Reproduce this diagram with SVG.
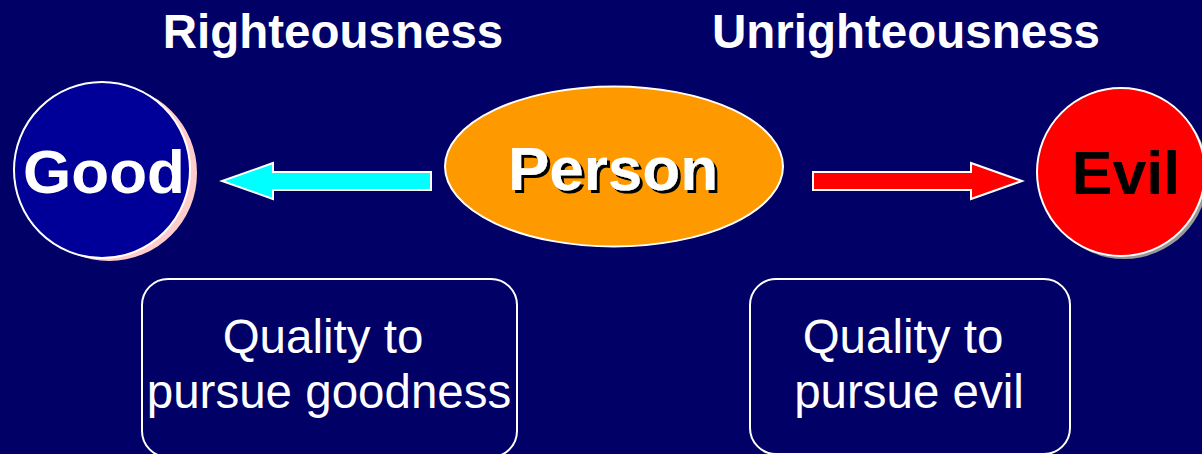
<svg xmlns="http://www.w3.org/2000/svg" width="1202" height="454" viewBox="0 0 1202 454">
<defs>
<filter id="tshadow" x="-10%" y="-20%" width="130%" height="150%">
<feDropShadow dx="3" dy="3" stdDeviation="0.3" flood-color="#000" flood-opacity="1"/>
</filter>
</defs>
<style>
.hdr{font-family:"Liberation Sans",Arial,sans-serif;font-weight:bold;fill:#fff;font-size:47.5px;text-anchor:middle}
.big{font-family:"Liberation Sans",Arial,sans-serif;font-weight:bold;font-size:62px;text-anchor:middle}
.box{fill:#000066;stroke:#fff;stroke-width:2}
.q{font-family:"Liberation Sans",Arial,sans-serif;fill:#fff;font-size:47.5px;text-anchor:middle}
.arrow{stroke:#fff;stroke-width:2;stroke-linejoin:miter}
</style>
<rect width="1202" height="454" fill="#000066"/>
<g id="header-righteousness"><text class="hdr" x="333" y="48">Righteousness</text></g>
<g id="header-unrighteousness"><text class="hdr" x="906" y="48">Unrighteousness</text></g>
<g id="good">
<circle cx="109" cy="173" r="88" fill="#FFCCCC"/>
<circle cx="102" cy="170" r="88" fill="#000099" stroke="#fff" stroke-width="2"/>
<text class="big" x="104" y="193" fill="#fff">Good</text>
</g>
<g id="evil">
<circle cx="1124" cy="175" r="84" fill="#999999"/>
<circle cx="1121" cy="172" r="84" fill="#FF0000" stroke="#fff" stroke-width="2"/>
<text class="big" x="1126" y="194" fill="#000" style="font-size:61px">Evil</text>
</g>
<g id="person">
<ellipse cx="614" cy="166.5" rx="169" ry="80" fill="#FF9900" stroke="#fff" stroke-width="2"/>
<text class="big" x="613" y="190" fill="#fff" filter="url(#tshadow)">Person</text>
</g>
<g id="connectors">
<polygon class="arrow" fill="#00FFFF" points="431,172 273,172 273,163 222,181 273,199 273,190 431,190"/>
<polygon class="arrow" fill="#FF0000" points="813,172 971,172 971,163 1022,181 971,199 971,190 813,190"/>
</g>
<g id="quality-goodness">
<rect class="box" x="142" y="279" width="375" height="178" rx="26"/>
<text class="q" x="323" y="353">Quality to</text>
<text class="q" x="329" y="408">pursue goodness</text>
</g>
<g id="quality-evil">
<rect class="box" x="750" y="279" width="320" height="175" rx="26"/>
<text class="q" x="903" y="353">Quality to</text>
<text class="q" x="909" y="408">pursue evil</text>
</g>
</svg>
